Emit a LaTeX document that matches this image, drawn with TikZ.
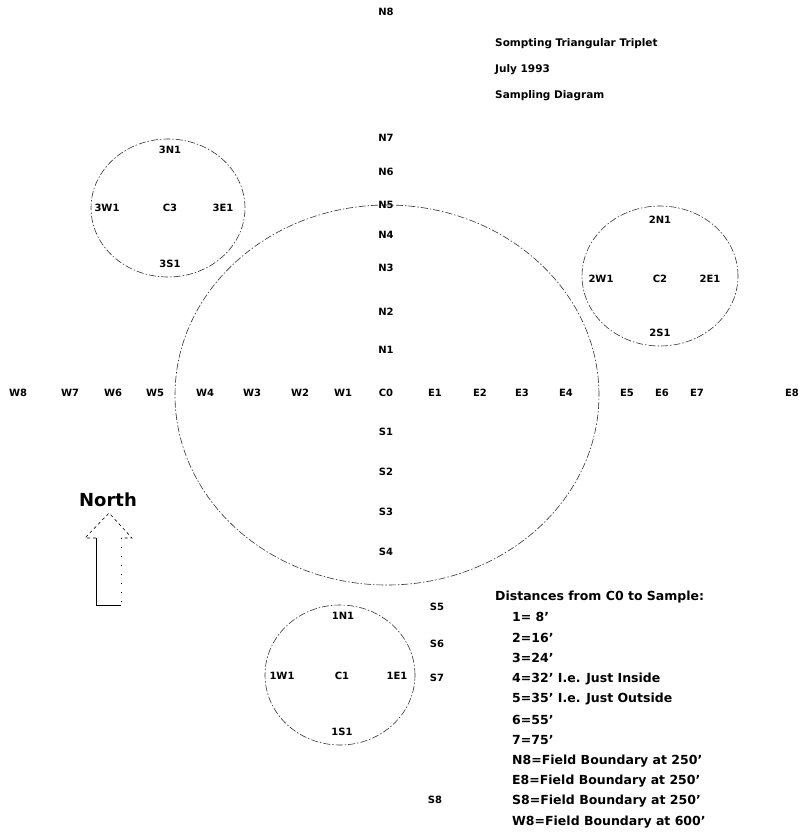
\documentclass[tikz,border=0pt]{standalone}
\usepackage{fontspec}
\setmainfont{DejaVu Sans}
\begin{document}
\begin{tikzpicture}[x=1pt,y=-1pt,
  lab/.style={font=\bfseries\fontsize{10}{11}\selectfont, inner sep=0pt},
  ttl/.style={font=\bfseries\fontsize{10.5}{12}\selectfont, inner sep=0pt, anchor=west},
  leg/.style={font=\bfseries\fontsize{12.5}{14}\selectfont, inner sep=0pt, anchor=west},
  ring/.style={draw=black!80, line width=0.6pt, dash pattern=on 7pt off 2pt on 1.5pt off 2pt}]
\useasboundingbox (0,0) rectangle (802,833);
% circles
\draw[ring] (387,395) ellipse [x radius=212pt, y radius=190pt];
\draw[ring] (168,208) ellipse [x radius=77pt, y radius=69pt];
\draw[ring] (660,276) ellipse [x radius=78pt, y radius=70pt];
\draw[ring] (340,675) ellipse [x radius=75pt, y radius=70pt];
% north axis
\node[lab] (N8) at (386,12) {N8};
\node[lab] (N7) at (386,138) {N7};
\node[lab] (N6) at (386,172) {N6};
\node[lab] (N5) at (386,205) {N5};
\node[lab] (N4) at (386,235) {N4};
\node[lab] (N3) at (386,268) {N3};
\node[lab] (N2) at (386,312) {N2};
\node[lab] (N1) at (386,350) {N1};
\node[lab] (C0) at (386,393) {C0};
\node[lab] (S1) at (386,432) {S1};
\node[lab] (S2) at (386,472) {S2};
\node[lab] (S3) at (386,512) {S3};
\node[lab] (S4) at (386,552) {S4};
\node[lab] (S5) at (437,607) {S5};
\node[lab] (S6) at (437,644) {S6};
\node[lab] (S7) at (437,678) {S7};
\node[lab] (S8) at (435,800) {S8};
% west
\node[lab] (W8) at (18,393) {W8};
\node[lab] (W7) at (70,393) {W7};
\node[lab] (W6) at (113,393) {W6};
\node[lab] (W5) at (155,393) {W5};
\node[lab] (W4) at (205,393) {W4};
\node[lab] (W3) at (252,393) {W3};
\node[lab] (W2) at (300,393) {W2};
\node[lab] (W1) at (343,393) {W1};
% east
\node[lab] (E1) at (435,393) {E1};
\node[lab] (E2) at (480,393) {E2};
\node[lab] (E3) at (522,393) {E3};
\node[lab] (E4) at (566,393) {E4};
\node[lab] (E5) at (627,393) {E5};
\node[lab] (E6) at (662,393) {E6};
\node[lab] (E7) at (697,393) {E7};
\node[lab] (E8) at (792,393) {E8};
% C3
\node[lab] (3N1) at (170,150) {3N1};
\node[lab] (3W1) at (107,208) {3W1};
\node[lab] (C3) at (170,208) {C3};
\node[lab] (3E1) at (223,208) {3E1};
\node[lab] (3S1) at (170,264) {3S1};
% C2
\node[lab] (2N1) at (660,220) {2N1};
\node[lab] (2W1) at (601,279) {2W1};
\node[lab] (C2) at (660,279) {C2};
\node[lab] (2E1) at (710,279) {2E1};
\node[lab] (2S1) at (660,333) {2S1};
% C1
\node[lab] (1N1) at (343,616) {1N1};
\node[lab] (1W1) at (282,676) {1W1};
\node[lab] (C1) at (342,676) {C1};
\node[lab] (1E1) at (397,676) {1E1};
\node[lab] (1S1) at (342,732) {1S1};
% title
\node[ttl] (t1) at (495,44) {Sompting Triangular Triplet};
\node[ttl] (t2) at (495,70) {July 1993};
\node[ttl] (t3) at (495,96) {Sampling Diagram};
% legend
\node[leg] (l0) at (495,597) {Distances from C0 to Sample:};
\node[leg] (l1) at (512,617) {1= 8'};
\node[leg] (l2) at (512,638) {2=16'};
\node[leg] (l3) at (512,658) {3=24'};
\node[leg] (l4) at (512,679) {4=32' I.e. Just Inside};
\node[leg] (l5) at (512,699) {5=35' I.e. Just Outside};
\node[leg] (l6) at (512,720) {6=55'};
\node[leg] (l7) at (512,740) {7=75'};
\node[leg] (l8) at (512,761) {N8=Field Boundary at 250'};
\node[leg] (l9) at (512,781) {E8=Field Boundary at 250'};
\node[leg] (l10) at (512,801) {S8=Field Boundary at 250'};
\node[leg] (l11) at (512,822) {W8=Field Boundary at 600'};
% north arrow
\node[font=\bfseries\fontsize{18}{20}\selectfont, inner sep=0pt] (north) at (108,500) {North};
\coordinate (tip) at (109,513);
\coordinate (hl) at (85,538);
\coordinate (hr) at (132,538);
\coordinate (sl) at (96,538);
\coordinate (sr) at (121,538);
\coordinate (bl) at (96,605);
\coordinate (br) at (121,605);
\draw[line width=0.6pt, dashed] (sl) -- (hl) -- (tip) -- (hr) -- (sr);
\draw[line width=0.8pt] (sl) -- (bl) -- (br);
\draw[line width=0.6pt, dash pattern=on 1pt off 8pt] (sr) -- (br);
\end{tikzpicture}
\end{document}
